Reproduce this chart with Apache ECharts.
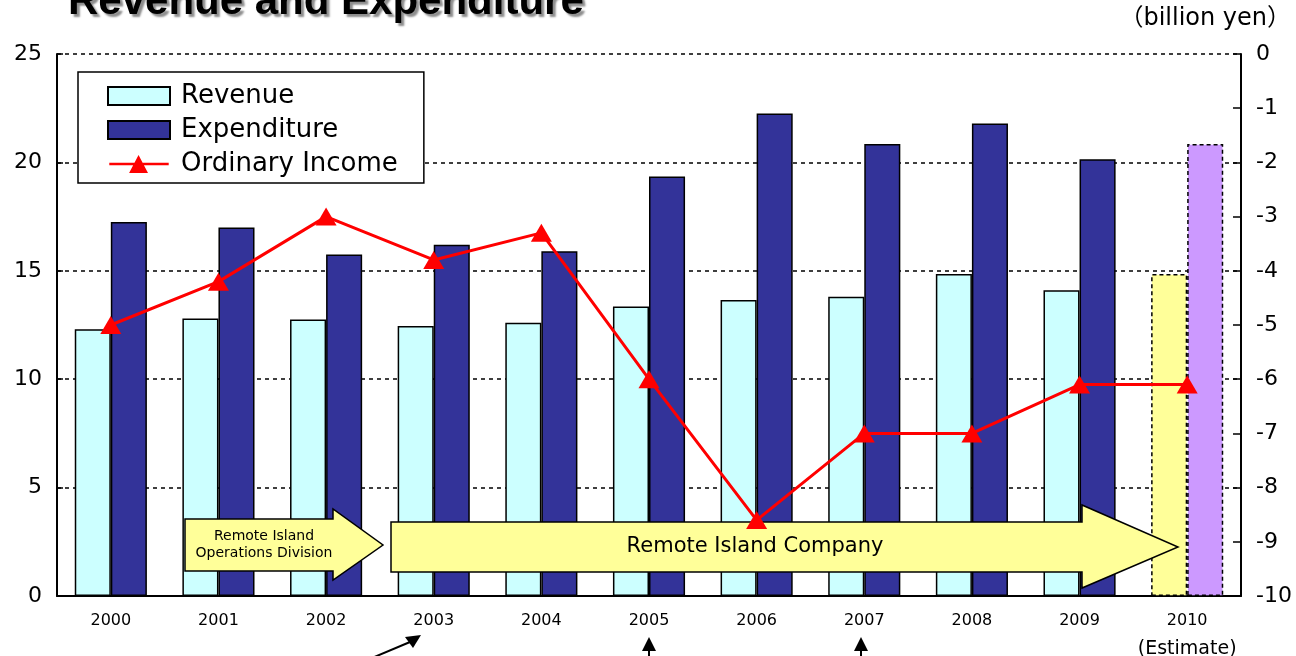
<!DOCTYPE html>
<html>
<head>
<meta charset="utf-8">
<title>Revenue and Expenditure</title>
<script src="https://cdn.jsdelivr.net/npm/echarts@6/dist/echarts.min.js"></script>
<style>
  html, body { margin: 0; padding: 0; background: #fff; }
  #chart { width: 1296px; height: 656px; }
</style>
</head>
<body>
<div id="chart"></div>
<script>
// fiscal years
const years = ['2000', '2001', '2002', '2003', '2004', '2005', '2006', '2007', '2008', '2009', '2010']
// billion yen, left axis
const revenue = [12.3, 12.8, 12.75, 12.45, 12.6, 13.35, 13.65, 13.8, 14.85, 14.1, 14.85]
const expenditure = [17.25, 17.0, 15.75, 16.2, 15.9, 19.35, 22.25, 20.85, 21.8, 20.15, 20.85]
// billion yen, right axis
const ordinaryIncome = [-5.0, -4.2, -3.0, -3.8, -3.3, -6.0, -8.6, -7.0, -7.0, -6.1, -6.1]

const FONT = 'DejaVu Sans, Noto Sans CJK JP, sans-serif'
const TITLE_FONT = 'Liberation Sans, Arial, sans-serif'
const estimateIdx = years.length - 1

// last year is an estimate: other fill, dashed outline
const barData = (values, estColor) => values.map((v, i) => {
  if (i !== estimateIdx) return v
  return {
    value: v,
    itemStyle: { color: estColor, borderColor: '#000', borderWidth: 1.5, borderType: [4, 3] }
  }
})

const arrowStyle = { fill: '#ffff99', stroke: '#000', lineWidth: 1.5 }
// legend icon for the line: thick line with a big triangle on it
const lineIcon = 'path://M0,8.5L66,8.5L66,11.5L0,11.5Z M22,20L32.5,0L43,20Z'

const chart = echarts.init(document.getElementById('chart'))
const option = {
  animation: false,
  textStyle: { fontFamily: FONT },
  grid: { left: 57, right: 55, top: 54, bottom: 60, containLabel: false, outerBoundsMode: 'none' },
  legend: {
    orient: 'vertical',
    left: 78,
    top: 72,
    padding: [11, 26, 6, 29],
    itemGap: 8,
    itemWidth: 62,
    itemHeight: 18,
    borderColor: '#000',
    borderWidth: 1.5,
    backgroundColor: '#fff',
    textStyle: { fontSize: 26, color: '#000', fontFamily: FONT, padding: [0, 0, 0, 6] },
    data: [
      { name: 'Revenue', icon: 'rect' },
      { name: 'Expenditure', icon: 'rect' },
      { name: 'Ordinary Income', icon: lineIcon, itemStyle: { color: '#ff0000', borderWidth: 0 } }
    ]
  },
  xAxis: {
    type: 'category',
    data: years,
    axisLine: { lineStyle: { color: '#000', width: 2 } },
    axisTick: { inside: true, length: 6, lineStyle: { color: '#000', width: 1.5 } },
    axisLabel: {
      interval: 0,
      margin: 17,
      color: '#000',
      fontSize: 16,
      formatter: (v, i) => i === estimateIdx ? v + '\n{est|(Estimate)}' : v,
      rich: { est: { fontSize: 19, color: '#000', padding: [11, 0, 0, 0] } }
    }
  },
  yAxis: [
    {
      type: 'value',
      min: 0,
      max: 25,
      interval: 5,
      axisLine: { show: true, lineStyle: { color: '#000', width: 2 } },
      axisTick: { show: true, inside: true, length: 6, lineStyle: { color: '#000', width: 1.5 } },
      axisLabel: { color: '#000', fontSize: 22, margin: 15 },
      splitLine: { show: true, lineStyle: { color: '#000', width: 1.5, type: [4, 4] } }
    },
    {
      type: 'value',
      min: -10,
      max: 0,
      interval: 1,
      axisLine: { show: true, lineStyle: { color: '#000', width: 2 } },
      axisTick: { show: true, inside: true, length: 8, lineStyle: { color: '#000', width: 1.5 } },
      axisLabel: { color: '#000', fontSize: 22, margin: 15 },
      splitLine: { show: false }
    }
  ],
  series: [
    {
      name: 'Revenue',
      type: 'bar',
      data: barData(revenue, '#ffff99'),
      barGap: 0,
      barCategoryGap: '33%',
      z: 2,
      itemStyle: { color: '#ccffff', borderColor: '#000', borderWidth: 1.5 }
    },
    {
      name: 'Expenditure',
      type: 'bar',
      data: barData(expenditure, '#cc99ff'),
      barGap: 0,
      barCategoryGap: '33%',
      z: 2,
      itemStyle: { color: '#333399', borderColor: '#000', borderWidth: 1.5 }
    },
    {
      name: 'Ordinary Income',
      type: 'line',
      yAxisIndex: 1,
      data: ordinaryIncome,
      z: 10,
      symbol: 'triangle',
      symbolSize: [21, 18],
      lineStyle: { color: '#ff0000', width: 3 },
      itemStyle: { color: '#ff0000' }
    }
  ],
  graphic: [
    // title, cut off by the top edge
    {
      type: 'text', left: 68, top: -19, z: 20,
      style: {
        text: 'Revenue and Expenditure', font: 'bold 42px ' + TITLE_FONT, fill: '#000',
        textShadowColor: 'rgba(0,0,0,0.45)', textShadowOffsetX: 3, textShadowOffsetY: 3, textShadowBlur: 2
      }
    },
    {
      type: 'text', right: 5, top: 7, z: 20,
      style: { text: '（billion yen）', font: '24px ' + FONT, fill: '#000' }
    },
    // small arrow: Remote Island Operations Division
    {
      type: 'polygon', z: 5,
      shape: { points: [[185, 519], [333, 519], [333, 509], [383, 545], [333, 580], [333, 571], [185, 571]] },
      style: arrowStyle
    },
    {
      type: 'text', z: 6, x: 264, y: 545,
      style: {
        text: 'Remote Island\nOperations Division', font: '14px ' + FONT, fill: '#000',
        align: 'center', verticalAlign: 'middle', lineHeight: 17
      }
    },
    // large arrow: Remote Island Company
    {
      type: 'polygon', z: 5,
      shape: { points: [[391, 522], [1082, 522], [1082, 505], [1178, 547], [1082, 588], [1082, 572], [391, 572]] },
      style: arrowStyle
    },
    {
      type: 'text', z: 6, x: 755, y: 547,
      style: { text: 'Remote Island Company', font: '21px ' + FONT, fill: '#000', align: 'center', verticalAlign: 'middle' }
    },
    // pointers below the axis (cut off at the bottom)
    { type: 'line', z: 5, shape: { x1: 649, y1: 650, x2: 649, y2: 660 }, style: { stroke: '#000', lineWidth: 2 } },
    { type: 'polygon', z: 5, shape: { points: [[642, 651], [649, 637], [656, 651]] }, style: { fill: '#000' } },
    { type: 'line', z: 5, shape: { x1: 861, y1: 650, x2: 861, y2: 660 }, style: { stroke: '#000', lineWidth: 2 } },
    { type: 'polygon', z: 5, shape: { points: [[854, 651], [861, 637], [868, 651]] }, style: { fill: '#000' } },
    { type: 'line', z: 5, shape: { x1: 372, y1: 658, x2: 410, y2: 642 }, style: { stroke: '#000', lineWidth: 2 } },
    { type: 'polygon', z: 5, shape: { points: [[405, 637], [421, 635], [413, 648]] }, style: { fill: '#000' } }
  ]
}
chart.setOption(option)
</script>
</body>
</html>
